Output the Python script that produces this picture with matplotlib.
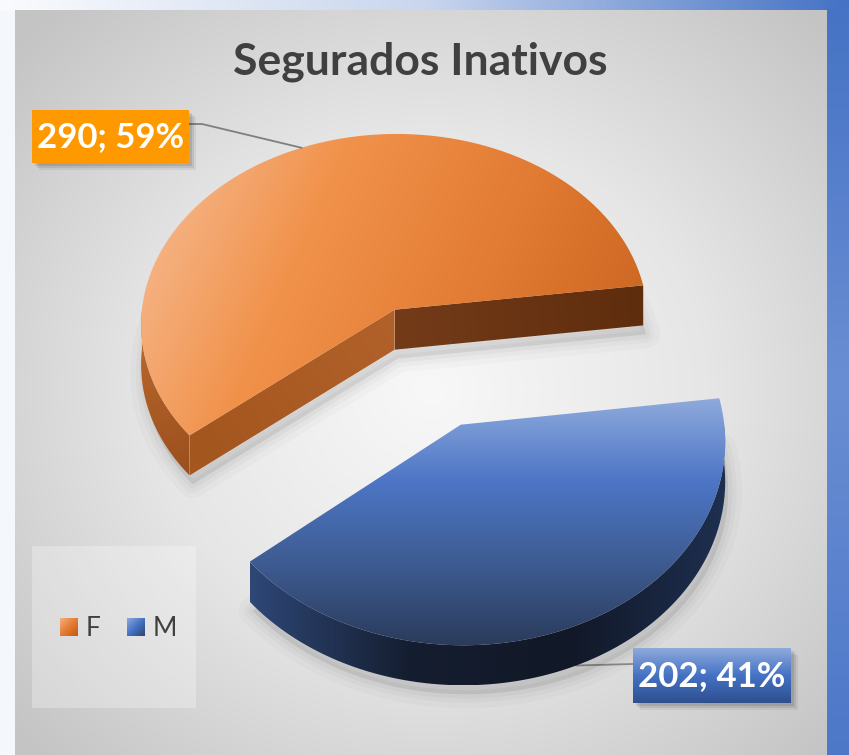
import numpy as np
import matplotlib.pyplot as plt
from matplotlib.colors import LinearSegmentedColormap
from matplotlib.patches import Polygon, Rectangle

# data
labels = ['F', 'M']
values = [290, 202]
title = 'Segurados Inativos'

# colours per slice
top_colors = [['#F7BE96', '#F1924B', '#E27B33', '#C9641F'],
              ['#8FAADC', '#4D76C6', '#3E5C92', '#2B3C5C']]
start_face_colors = [['#743B19', '#5E2D0D'], ['#2C4470', '#1A2842']]
end_face_colors = [['#A4561F', '#B2612A'], ['#2C4470', '#1A2842']]
wall_colors = [['#BF6C30', '#9A4F1D'], ['#2E4776', '#151E30', '#111827', '#1E2F50']]
legend_colors = [['#F4B183', '#E47C33', '#C55A11'], ['#8FAADC', '#4472C4', '#2F446B']]

W, H = 849, 755
fig = plt.figure(figsize=(W / 100, H / 100), dpi=100)
ax = fig.add_axes([0, 0, 1, 1])
ax.set_xlim(0, W)
ax.set_ylim(H, 0)
ax.axis('off')


def grad(xy, colors, p0, p1, z, radial=False):
    xy = np.asarray(xy)
    poly = Polygon(xy, closed=True, facecolor='none', edgecolor='none', zorder=z)
    ax.add_patch(poly)
    x0, x1 = xy[:, 0].min(), xy[:, 0].max()
    y0, y1 = xy[:, 1].min(), xy[:, 1].max()
    gx, gy = np.meshgrid(np.linspace(x0, x1, 300), np.linspace(y0, y1, 300))
    if radial:
        # p0 = centre, p1 = radii
        t = np.sqrt(((gx - p0[0]) / p1[0]) ** 2 + ((gy - p0[1]) / p1[1]) ** 2)
    else:
        d = np.array(p1, float) - np.array(p0, float)
        t = ((gx - p0[0]) * d[0] + (gy - p0[1]) * d[1]) / (d @ d)
    t = np.clip(t, 0, 1)
    cmap = LinearSegmentedColormap.from_list('g', colors)
    im = ax.imshow(t, cmap=cmap, vmin=0, vmax=1, extent=(x0, x1, y1, y0),
                   origin='upper', aspect='auto', zorder=z, interpolation='bilinear')
    im.set_clip_path(poly)


def rect(x, y, w, h):
    return [(x, y), (x + w, y), (x + w, y + h), (x, y + h)]


# background: outer frame + chart area
grad(rect(0, 0, W, 11), ['#FAFBFD', '#C9D6EE', '#4472C4'], (0, 0), (W, 0), 0)
ax.add_patch(Rectangle((0, 11), 15, H, facecolor='#F4F7FB', edgecolor='none', zorder=0))
grad(rect(827, 8, 22, H), ['#4673C5', '#6A8ED3', '#4D78C8'], (0, 8), (0, H), 0)
grad(rect(15, 10, 812, 745), ['#F8F8F8', '#E6E6E6', '#C4C4C4'],
     (430, 390), (560, 520), 1, radial=True)

# 3d pie geometry (perspective projection of a tilted disc)
D, RX, RY = 14.0, 258, 196
CX, CY = 427, 366
DEPTH = 40
EXPL = 0.32
START = 7.5


def proj(X, Y):
    k = D / (D + Y)
    return np.column_stack([CX + RX * X * k, CY - RY * Y * k])


fracs = np.array(values) / sum(values)
down = np.array([0, DEPTH])
attach = []
t0 = START
for i, f in enumerate(fracs):
    t1 = t0 + 360 * f
    mid = np.radians((t0 + t1) / 2)
    ox, oy = EXPL * np.cos(mid), EXPL * np.sin(mid)
    ts = np.radians(np.linspace(t0, t1, 300))
    arc = proj(ox + np.cos(ts), oy + np.sin(ts))
    v = proj(np.array([ox]), np.array([oy]))
    z = 10 + 10 * i

    # soft shadow under the slice
    base = np.vstack([v + down, arc + down]) + np.array([3, 9])
    for lw, a in [(20, 0.018), (12, 0.025), (6, 0.03)]:
        ax.add_patch(Polygon(base, closed=True, facecolor=(0, 0, 0, a),
                             edgecolor=(0, 0, 0, a), lw=lw, joinstyle='round', zorder=z))

    # radial faces that look toward the viewer
    if np.cos(np.radians(t0)) > 0:
        face = np.vstack([v, arc[:1], arc[:1] + down, v + down])
        grad(face, start_face_colors[i], face[0], face[1], z + 1)
    if np.cos(np.radians(t1)) < 0:
        face = np.vstack([v, arc[-1:], arc[-1:] + down, v + down])
        grad(face, end_face_colors[i], face[1], face[0], z + 1)

    # outer wall, front half only
    for lo, hi in [(180, 360), (540, 720)]:
        a, b = max(t0, lo), min(t1, hi)
        if b > a:
            tw = np.radians(np.linspace(a, b, 200))
            pts = proj(ox + np.cos(tw), oy + np.sin(tw))
            wall = np.vstack([pts, (pts + down)[::-1]])
            if len(wall_colors[i]) == 2:
                grad(wall, wall_colors[i], (pts[:, 0].min(), pts[:, 1].min()),
                     (pts[:, 0].max(), pts[:, 1].max() + DEPTH), z + 2)
            else:
                grad(wall, wall_colors[i], (pts[:, 0].min(), 0), (pts[:, 0].max(), 0), z + 2)

    # top face
    top = np.vstack([v, arc])
    if i == 0:
        grad(top, top_colors[i], (top[:, 0].min(), top[:, 1].min() + 20),
             (top[:, 0].max(), top[:, 1].max() - 60), z + 3)
    else:
        grad(top, top_colors[i], (0, top[:, 1].min()), (0, top[:, 1].max()), z + 3)

    # leader attach point at the mid angle
    pm = proj(np.array([ox + np.cos(mid)]), np.array([oy + np.sin(mid)]))[0]
    if np.sin(mid) < 0:
        pm = pm + down
    attach.append(pm)
    t0 = t1

# data labels
pcts = [f'{v}; {round(100 * f)}%' for v, f in zip(values, fracs)]
boxes = [(32, 110, 157, 53), (633, 648, 158, 55)]
box_colors = [['#FF9900', '#FF9900'], ['#8FAADC', '#4472C4', '#2F4F8F']]
for i, (bx, by, bw, bh) in enumerate(boxes):
    for off, a in [(7, 0.06), (5, 0.08), (3, 0.1)]:
        ax.add_patch(Rectangle((bx + off, by + off), bw, bh, facecolor=(0, 0, 0, a),
                               edgecolor='none', zorder=40))
    grad(rect(bx, by, bw, bh), box_colors[i], (0, by), (0, by + bh), 41)
    ax.text(bx + bw / 2, by + bh / 2 + 1, pcts[i], ha='center', va='center',
            fontsize=25, fontweight='bold', color='white', family='Lato', zorder=42)

# leader lines
p = attach[0]
ax.plot([189, 202, p[0]], [124, 124, p[1]], color='#7F7F7F', lw=1.3, zorder=39)
p = attach[1]
ax.plot([633, p[0]], [664, p[1]], color='#8C8C8C', lw=1.3, zorder=9)

# title
ax.text(420, 62, title, ha='center', va='center', fontsize=32, fontweight='bold',
        color='#404040', family='Lato', zorder=50)

# legend
ax.add_patch(Rectangle((32, 546), 164, 162, facecolor=(1, 1, 1, 0.28),
                       edgecolor='none', zorder=5))
leg_x = [60, 127]
for i, lab in enumerate(labels):
    grad(rect(leg_x[i], 618, 18, 18), legend_colors[i], (leg_x[i], 618),
         (leg_x[i] + 18, 636), 6)
    ax.text(leg_x[i] + 26, 628, lab, ha='left', va='center', fontsize=19,
            color='#404040', family='Lato', zorder=6)

ax.set_xlim(0, W)
ax.set_ylim(H, 0)
fig.savefig('out.png', dpi=100)
